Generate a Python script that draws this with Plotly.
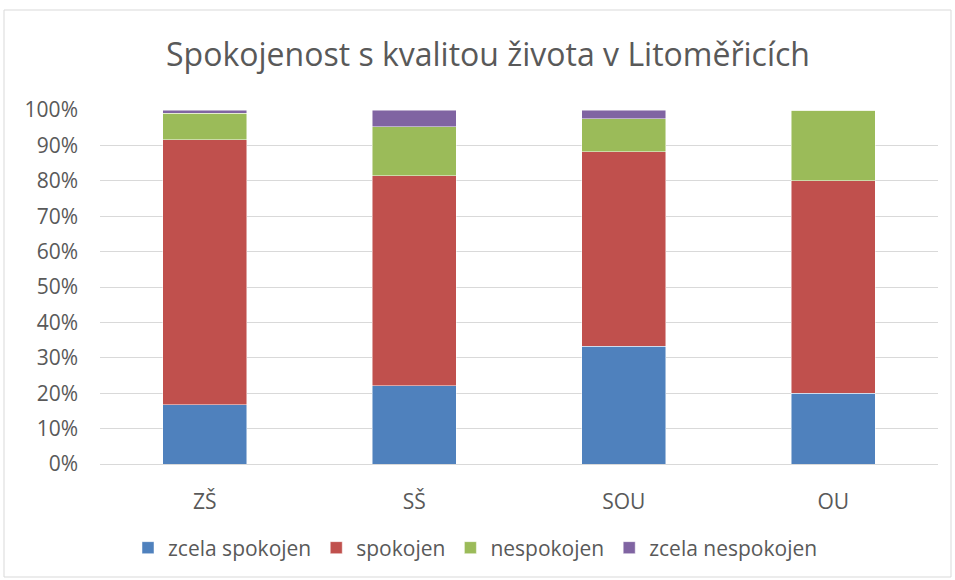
import plotly.graph_objects as go

categories = ["ZŠ", "SŠ", "SOU", "OU"]
zcela_spokojen = [0.168, 0.221, 0.333, 0.20]
spokojen = [0.748, 0.593, 0.549, 0.60]
nespokojen = [0.075, 0.138, 0.093, 0.20]
zcela_nespokojen = [0.009, 0.048, 0.025, 0.0]

series = [
    ("zcela spokojen", zcela_spokojen, "#4F81BD"),
    ("spokojen", spokojen, "#C0504D"),
    ("nespokojen", nespokojen, "#9BBB59"),
    ("zcela nespokojen", zcela_nespokojen, "#8064A2"),
]

font_family = "Open Sans, Liberation Sans, sans-serif"

fig = go.Figure()
for name, vals, color in series:
    fig.add_trace(go.Bar(
        x=categories, y=vals, name=name,
        marker=dict(color=color, line=dict(color="rgba(255,255,255,0.6)", width=0.8)),
    ))

L, R, T, B = 100, 17, 110, 116
W, H = 955, 580
pw = W - L - R
ph = H - T - B

def px_x(x):
    return (x - L) / pw

def px_y(y):
    return (H - B - y) / ph

fig.update_layout(
    width=W, height=H,
    barmode="stack", bargap=0.6,
    margin=dict(l=L, r=R, t=T, b=B),
    paper_bgcolor="white", plot_bgcolor="white",
    font=dict(family=font_family, color="#595959", size=21),
    title=dict(text="Spokojenost s kvalitou života v Litoměřicích",
               x=488 / W, xanchor="center", y=1 - 55 / H, yanchor="middle",
               font=dict(size=32, color="#595959", family=font_family)),
    xaxis=dict(showgrid=False, showline=True, linecolor="#d9d9d9", linewidth=1,
               ticks="", ticklabelstandoff=19, tickfont=dict(size=21, color="#595959")),
    yaxis=dict(range=[0, 1], dtick=0.1, tickformat=".0%", showgrid=True,
               gridcolor="#d9d9d9", gridwidth=1, zeroline=False, showline=False,
               ticks="", ticklabelstandoff=21, tickfont=dict(size=21, color="#595959")),
    legend=dict(orientation="h", x=px_x(128), xanchor="left",
                y=px_y(548), yanchor="middle",
                font=dict(size=21, color="#595959"), itemclick=False,
                traceorder="normal"),
    shapes=[dict(type="rect", xref="paper", yref="paper",
                 x0=px_x(4), x1=px_x(951), y0=px_y(577), y1=px_y(10),
                 line=dict(color="#d9d9d9", width=1), fillcolor="rgba(0,0,0,0)",
                 layer="below")],
)

fig.write_html("out.html", config={"displayModeBar": False},
               post_script="document.body.style.margin='0';document.body.style.overflow='hidden';")
